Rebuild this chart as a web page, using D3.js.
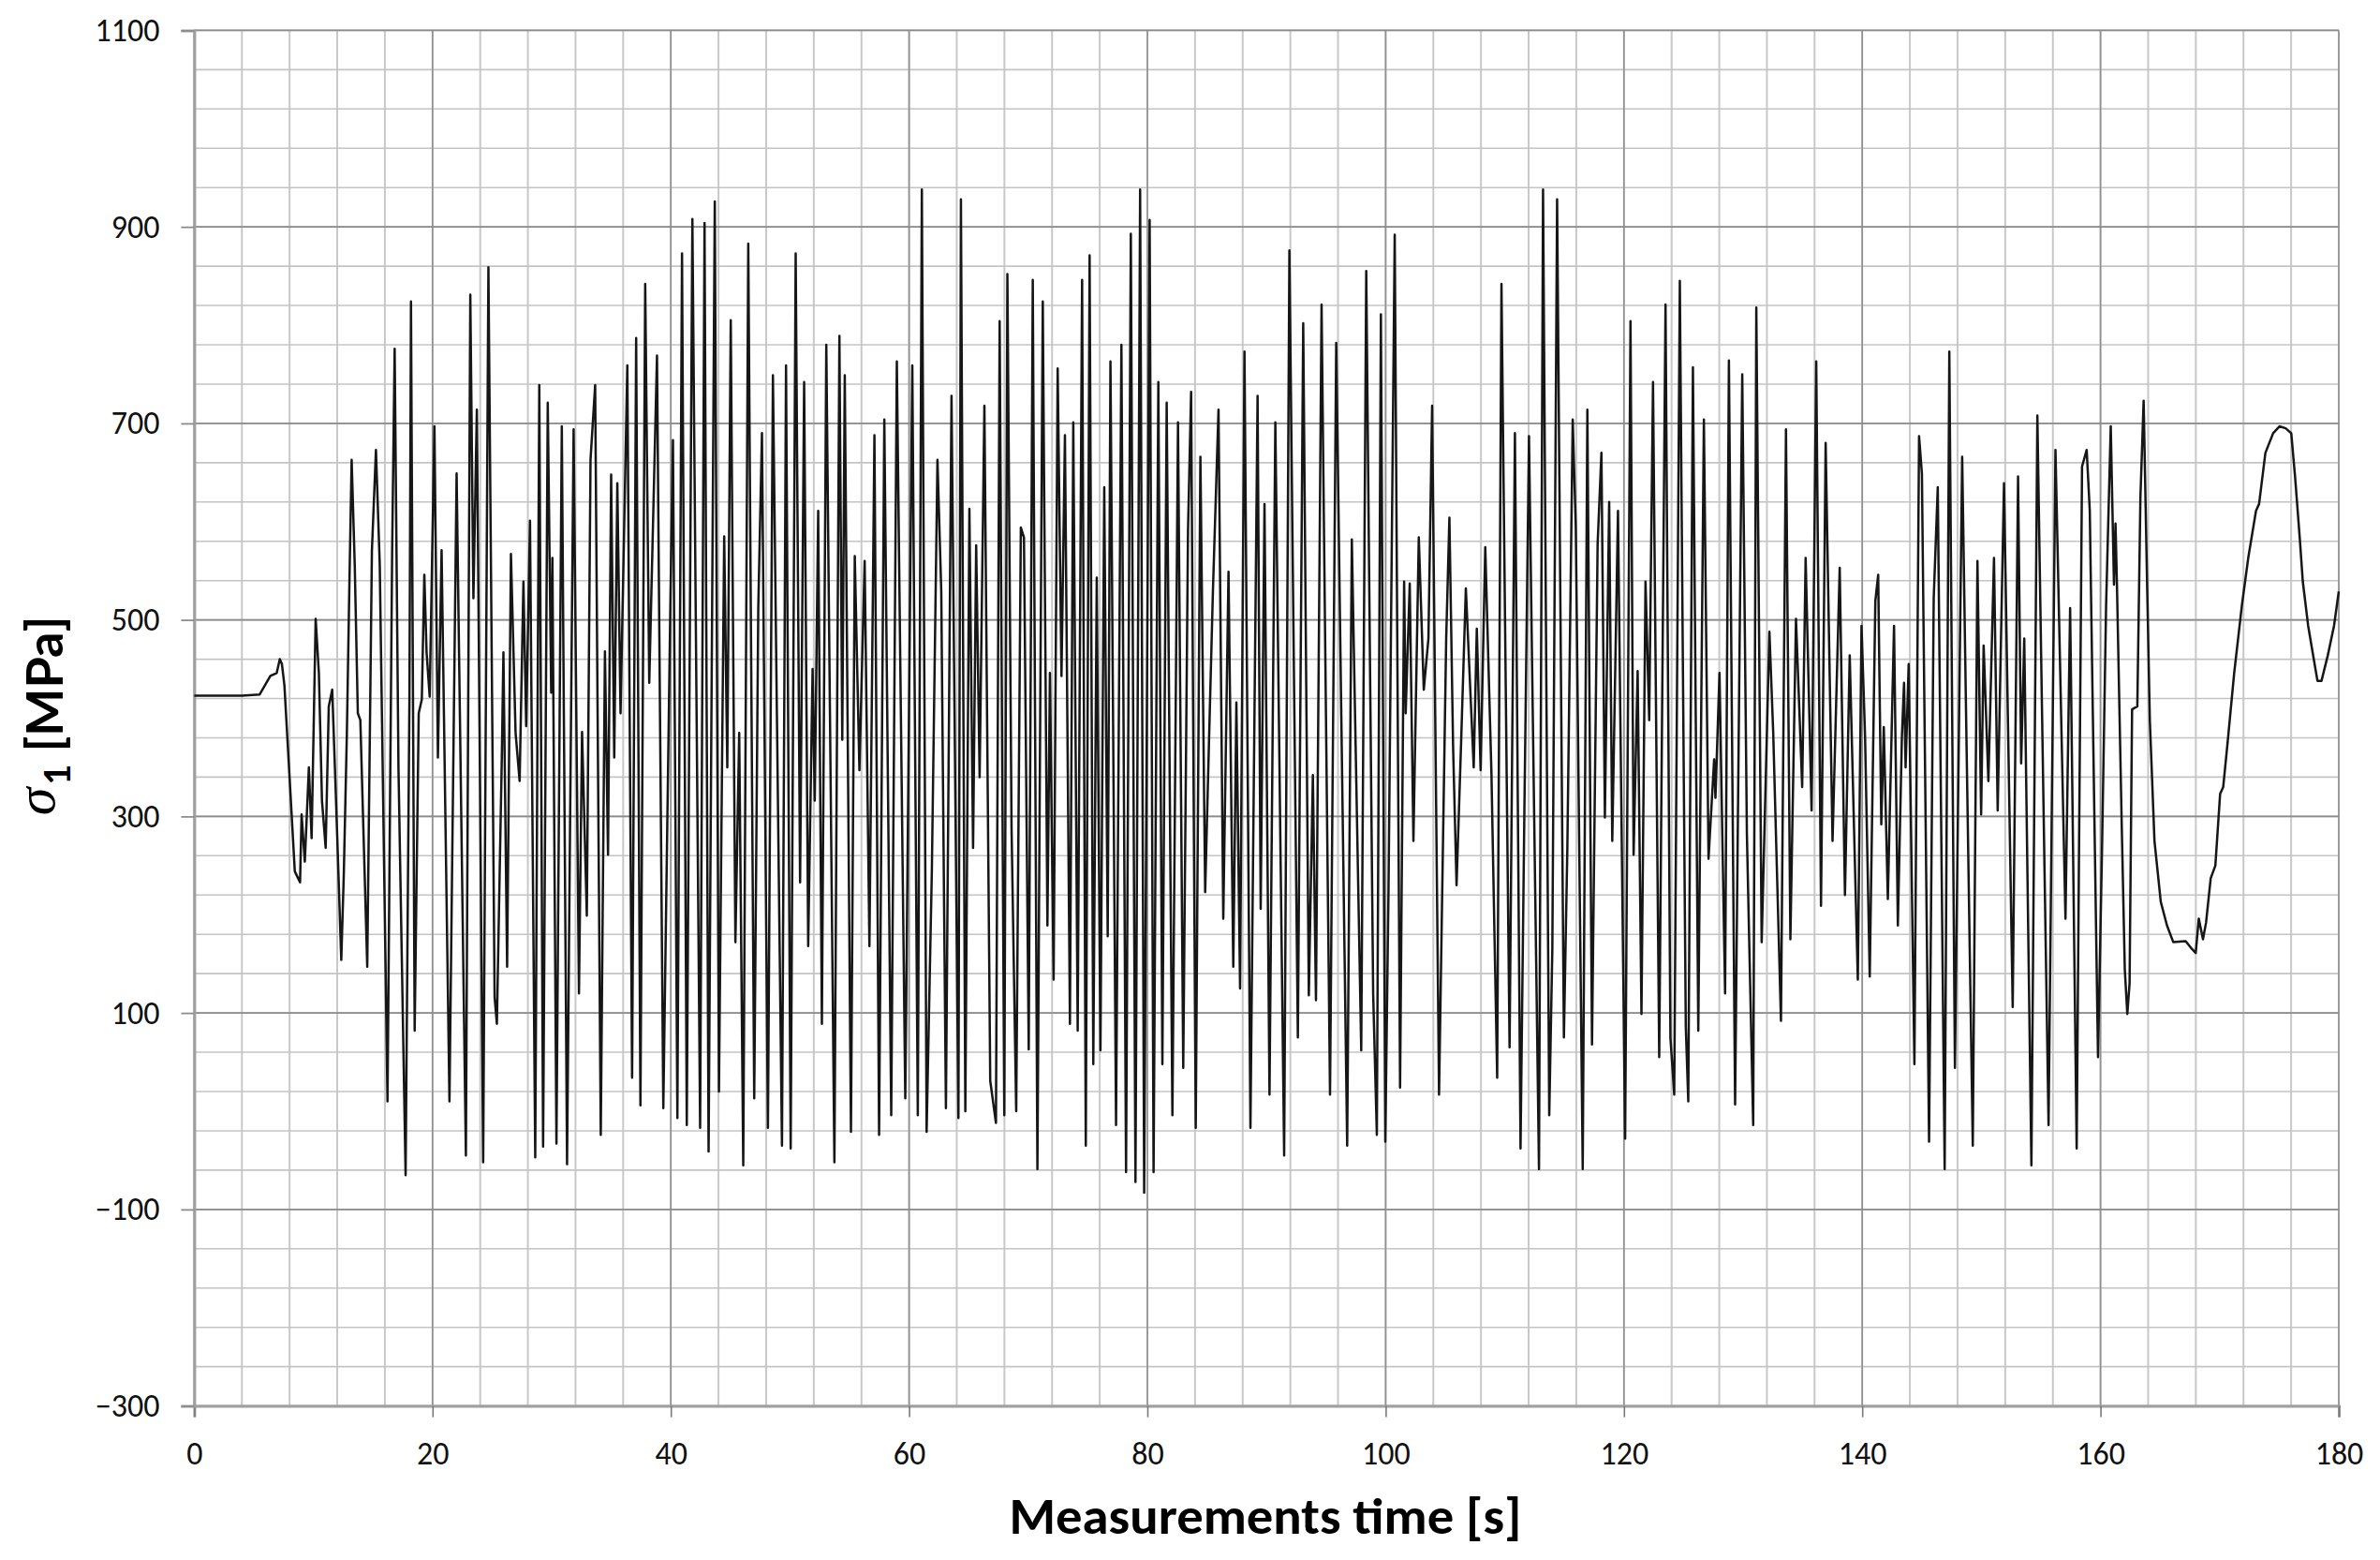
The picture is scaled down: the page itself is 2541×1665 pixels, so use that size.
<!DOCTYPE html>
<html><head><meta charset="utf-8">
<script src="https://cdn.jsdelivr.net/npm/d3@7"></script>
<style>html,body{margin:0;padding:0;background:#fff;} svg{display:block;}</style>
</head><body>
<svg id="chart" width="2541" height="1665"></svg>
<script>
// ---- data (time in s, sigma_1 in MPa) ----
const timeS = [
0,2,4,5.48,6.39,6.92,7.18,7.36,7.57,8.44,8.88,9.01,9.28,9.62,9.85,10.19,10.46,10.72,11.03,11.29,11.58,11.90,12.34,12.55,12.81,13.0,13.21,13.47,13.73,13.94,14.52,14.91,15.25,15.57,16.22,16.61,16.82,17.14,17.74,18.06,18.19,18.50,18.84,19.10,19.31,19.50,19.76,20.16,
20.45,20.76,21.42,22.02,22.80,23.17,23.43,23.72,24.25,24.69,25.21,25.40,25.82,25.95,26.26,26.58,26.97,27.31,27.63,27.86,28.18,28.62,28.96,29.28,29.67,29.96,30.06,30.40,30.85,31.29,31.84,32.29,32.55,32.95,33.26,33.65,34.12,34.47,34.73,34.99,35.25,35.51,35.78,36.35,36.75,37.09,37.45,37.85,38.19,38.84,39.37,39.97,40.18,
40.55,40.94,41.34,41.81,42.46,42.83,43.17,43.69,44.04,44.48,44.74,45.03,45.42,45.74,46.08,46.50,47.0,47.34,47.65,48.15,48.57,49.33,49.67,50.06,50.48,50.85,51.19,51.53,51.90,52.08,52.37,52.68,53.05,53.73,54.15,54.39,54.60,55.12,55.44,55.83,56.27,56.67,57.09,57.48,57.92,58.50,58.97,59.68,60.27,
60.73,61.07,61.47,61.91,62.38,62.70,63.09,63.56,64.14,64.35,64.72,65.06,65.37,65.63,65.92,66.32,66.81,67.29,67.60,67.99,68.25,68.60,68.99,69.38,69.64,70.04,70.38,70.77,71.22,71.61,71.82,72.13,72.47,72.79,73.08,73.50,73.78,74.15,74.52,74.83,75.15,75.46,75.75,76.06,76.38,76.67,76.90,77.37,77.82,78.21,78.61,79.0,79.39,79.73,80.19,
80.52,80.92,81.26,81.62,82.10,82.57,83.01,83.41,83.67,84.06,84.45,84.85,85.16,85.50,85.97,86.37,86.81,87.21,87.47,87.78,88.15,88.65,89.25,89.51,89.83,90.25,90.74,91.48,91.92,92.63,93.08,93.55,93.89,94.15,94.62,95.33,95.85,96.77,97.16,97.95,98.37,98.95,99.26,99.60,99.97,100.24,100.76,
101.21,101.55,101.68,102.02,102.33,102.78,103.20,103.59,103.90,104.48,105.08,105.35,105.66,105.95,106.34,106.73,107.39,107.65,107.97,108.36,108.88,109.36,109.72,110.40,110.85,111.32,111.64,112.03,112.87,113.21,113.73,113.99,114.39,114.96,115.25,115.70,115.96,116.54,116.93,117.32,117.79,118.11,118.40,118.76,119.02,119.50,120.10,
120.55,120.81,121.15,121.47,121.81,122.12,122.44,122.96,123.49,123.90,124.22,124.69,125.19,125.40,125.79,126.24,126.71,127.10,127.57,127.68,128.02,128.49,128.81,129.33,129.93,130.32,130.85,131.11,131.56,132.21,132.53,133.18,133.60,133.97,134.44,134.96,135.25,135.75,136.14,136.54,136.93,137.51,138.11,138.55,138.95,139.63,139.94,
140.24,140.63,141.10,141.34,141.60,141.81,142.15,142.67,142.99,143.33,143.51,143.64,143.90,144.38,144.77,145.01,145.61,146.0,146.34,146.92,147.31,147.78,148.39,148.75,149.28,149.67,149.98,150.19,150.59,151.06,151.37,151.90,152.63,153.08,153.34,153.60,154.20,154.70,155.64,156.22,157.06,157.45,158.0,158.45,158.84,159.10,159.79,
160.13,160.47,160.86,161.13,161.26,161.39,161.78,162.04,162.25,162.44,162.65,163.09,163.35,163.62,163.88,164.14,164.53,165.06,165.58,166.11,167.15,167.68,167.99,168.25,168.60,168.86,169.25,169.64,170.04,170.30,170.69,171.22,171.87,172.40,173.05,173.31,173.84,174.49,175.02,175.54,176.01,176.33,176.72,176.98,177.43,177.90,178.21,178.55,179.08,179.60,180
];
const sigma1 = [
423,423,423,424,443,446,460,455,433,244,233,302,254,350,278,501,446,316,268,412,429,316,154,240,385,522,663,556,405,398,147,570,673,556,10,570,776,350,-65,419,824,82,405,419,546,467,422,697,
360,571,10,649,-45,831,522,714,-52,859,116,89,364,467,147,567,385,336,539,392,601,-47,739,-36,721,426,563,-33,697,-54,694,120,386,199,663,739,-24,468,261,648,360,639,405,759,34,787,6,842,436,769,3,522,683,
-7,873,-14,908,-17,904,-41,926,20,585,350,805,172,385,-55,883,13,512,690,-17,749,-35,759,-38,873,233,742,168,450,316,611,89,780,-52,789,378,749,-21,565,347,560,168,688,-24,704,-4,763,13,759,
-4,938,-21,245,663,529,3,728,-7,928,0,613,268,576,340,718,31,-12,804,-4,852,288,0,594,584,63,846,-59,824,189,446,134,756,443,688,89,701,82,846,-35,871,48,543,62,635,178,763,-14,780,-62,893,-72,938,-83,907,
-62,742,48,721,-4,701,44,591,732,-17,666,223,371,529,714,196,549,147,416,125,773,-17,728,206,618,17,701,-45,876,75,802,118,342,113,821,17,782,-35,582,62,855,120,-24,811,-31,226,892,
24,539,405,537,275,584,429,481,718,17,481,604,371,230,378,532,350,491,347,574,343,34,842,65,690,-38,302,687,-59,938,-4,165,928,75,268,704,594,-59,714,68,577,670,299,620,275,611,-28,
804,261,448,99,539,398,742,55,821,75,17,845,86,10,757,82,704,257,358,319,446,120,764,7,750,282,-14,818,172,488,385,92,694,175,501,330,563,306,763,209,680,275,553,220,464,134,494,
381,137,519,546,292,391,216,494,189,381,436,350,455,48,687,649,-31,522,635,-59,773,44,666,378,-35,560,302,474,336,563,306,639,106,646,354,481,-55,708,-14,673,196,512,-38,656,673,611,55,
268,515,697,536,598,530,292,144,99,130,409,412,625,723,556,398,275,213,189,172,173,165,161,196,175,192,237,250,323,330,378,446,515,563,611,618,670,690,697,695,690,646,584,539,494,460,438,438,464,494,529
];
const xTickValues = [0,20,40,60,80,100,120,140,160,180];
const xTickLabels = ["0","20","40","60","80","100","120","140","160","180"];
const yTickValues = [-300,-100,100,300,500,700,900,1100];
const yTickLabels = ["\u2212300","\u2212100","100","300","500","700","900","1100"];
const xMinorStep = 4;
const yMinorStep = 40;
const xTitle = "Measurements time [s]";
const yTitleSymbol = "\u03C3";
const yTitleSub = "1";
const yTitleUnit = " [MPa]";

// ---- layout ----
const W = 2541, H = 1665;
const margin = {left: 207.4, right: 44, top: 32.4, bottom: 164.4};
const svg = d3.select("#chart");
svg.append("rect").attr("width", W).attr("height", H).attr("fill", "#fff");

const x = d3.scaleLinear().domain([0, 180]).range([margin.left, W - margin.right]);
const y = d3.scaleLinear().domain([-300, 1100]).range([H - margin.bottom, margin.top]);

const grid = svg.append("g");
// minor grid
grid.selectAll("line.vminor").data(d3.range(0, 180.001, xMinorStep)).join("line")
  .attr("x1", d => x(d)).attr("x2", d => x(d))
  .attr("y1", y(1100)).attr("y2", y(-300))
  .attr("stroke", "#c8c8c8").attr("stroke-width", 2);
grid.selectAll("line.hminor").data(d3.range(-300, 1100.001, yMinorStep)).join("line")
  .attr("x1", x(0)).attr("x2", x(180))
  .attr("y1", d => y(d)).attr("y2", d => y(d))
  .attr("stroke", "#c4c4c4").attr("stroke-width", 1.6);
// major grid
grid.selectAll("line.vmajor").data(xTickValues).join("line")
  .attr("x1", d => x(d)).attr("x2", d => x(d))
  .attr("y1", y(1100)).attr("y2", y(-300))
  .attr("stroke", "#909090").attr("stroke-width", 1.6);
grid.selectAll("line.hmajor").data(yTickValues).join("line")
  .attr("x1", x(0)).attr("x2", x(180))
  .attr("y1", d => y(d)).attr("y2", d => y(d))
  .attr("stroke", "#8c8c8c").attr("stroke-width", 1.8);

const tickFont = "Calibri, Carlito, Lato, sans-serif";

// x axis
const xAxis = d3.axisBottom(x).tickValues(xTickValues)
  .tickFormat((d, i) => xTickLabels[i]).tickSize(12).tickPadding(26);
const gx = svg.append("g").attr("transform", `translate(0,${y(-300)})`).call(xAxis);
gx.select(".domain").attr("stroke", "#a0a0a0").attr("stroke-width", 3);
gx.selectAll(".tick line").attr("stroke", "#7a7a7a").attr("stroke-width", 1.6);
gx.selectAll(".tick text").attr("font-family", tickFont).attr("font-size", 34).attr("fill", "#111");

// y axis
const yAxis = d3.axisLeft(y).tickValues(yTickValues)
  .tickFormat((d, i) => yTickLabels[i]).tickSize(14).tickPadding(23);
const gy = svg.append("g").attr("transform", `translate(${x(0)},0)`).call(yAxis);
gy.select(".domain").attr("stroke", "#a0a0a0").attr("stroke-width", 3);
gy.selectAll(".tick line").attr("stroke", "#8c8c8c").attr("stroke-width", 1.8);
gy.selectAll(".tick text").attr("font-family", tickFont).attr("font-size", 34).attr("fill", "#111");

// data line
const line = d3.line().x((d, i) => x(timeS[i])).y(d => y(d));
svg.append("path").datum(sigma1)
  .attr("d", line)
  .attr("fill", "none")
  .attr("stroke", "#161616")
  .attr("stroke-width", 2.5)
  .attr("stroke-linejoin", "round");

// x title
svg.append("text")
  .attr("x", 1351).attr("y", 1637)
  .attr("text-anchor", "middle")
  .attr("font-family", "Calibri, Carlito, Lato, sans-serif")
  .attr("font-weight", "bold")
  .attr("font-size", 54)
  .attr("textLength", 547).attr("lengthAdjust", "spacingAndGlyphs")
  .attr("fill", "#000")
  .text(xTitle);

// y title
const yt = svg.append("text")
  .attr("transform", "translate(67,764) rotate(-90)")
  .attr("text-anchor", "middle")
  .attr("fill", "#000");
yt.append("tspan").attr("font-family", "'Liberation Serif', 'DejaVu Serif', serif")
  .attr("font-style", "italic").attr("font-size", 60).attr("dy", -9).text(yTitleSymbol);
yt.append("tspan").attr("font-family", "Lato, sans-serif").attr("font-weight", "bold")
  .attr("font-size", 38).attr("dy", 17).attr("dx", 3).text(yTitleSub);
yt.append("tspan").attr("font-family", "Lato, sans-serif").attr("font-weight", "bold")
  .attr("font-size", 54).attr("dy", -8).text(yTitleUnit);
</script>
</body></html>
